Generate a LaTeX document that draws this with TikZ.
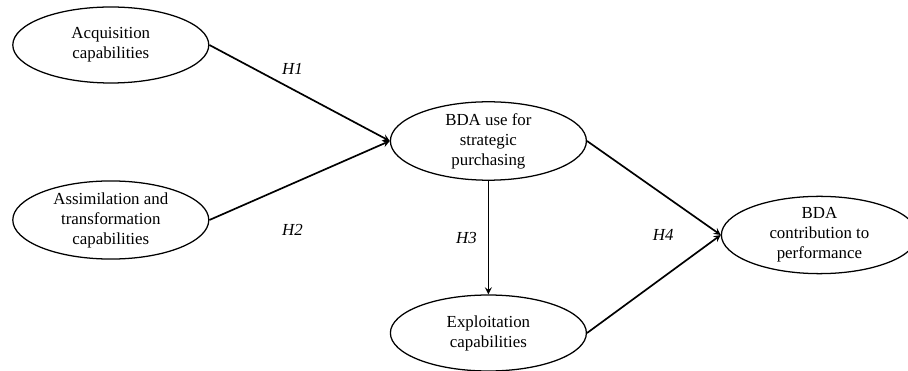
\documentclass[tikz,border=0pt]{standalone}
\usepackage{fontspec}
\setmainfont{Liberation Serif}
\usetikzlibrary{shapes.geometric, arrows}
\tikzstyle{construct} = [ellipse, minimum width=4.9cm, minimum height=1.9cm, inner sep=0pt, text centered, align=center, draw=black, line width=0.9pt, font=\fontsize{12}{14.2}\selectfont]
\tikzstyle{arrow} = [line width=1.2pt,->,>=stealth]
\tikzstyle{hyp} = [font=\fontsize{12}{14.2}\selectfont\itshape]

\begin{document}
\begin{tikzpicture}[node distance=4.8cm]
\useasboundingbox (-12.21,3.525) rectangle (10.49,-5.75);
\node (use) [construct] {BDA use for\\strategic\\purchasing};
\node (exp) [construct, below of=use] {Exploitation\\capabilities};
\node (acq) [construct, left of=use, xshift=-4.64cm, yshift=2.4cm] {Acquisition\\capabilities};
\node (assim) [construct, left of=use, xshift=-4.64cm, yshift=-1.975cm] {Assimilation and\\transformation\\capabilities};
\node (perf) [construct, right of=use, xshift=3.475cm, yshift=-2.35cm] {BDA\\contribution to\\performance};

\draw [arrow] (acq.east) -- node[hyp, pos=0.46, yshift=0.5cm] {H1} (use.west);
\draw [arrow] (assim.east) -- node[hyp, pos=0.46, yshift=-1.15cm] {H2} (use.west);
\draw [arrow] (use) -- node[hyp, midway, xshift=-0.55cm] {H3} (exp);
\draw [arrow] (use.east) -- node[hyp, pos=0.57, yshift=-1cm] {H4} (perf.west);
\draw [arrow] (exp.east) -- (perf.west);
\end{tikzpicture}
\end{document}
